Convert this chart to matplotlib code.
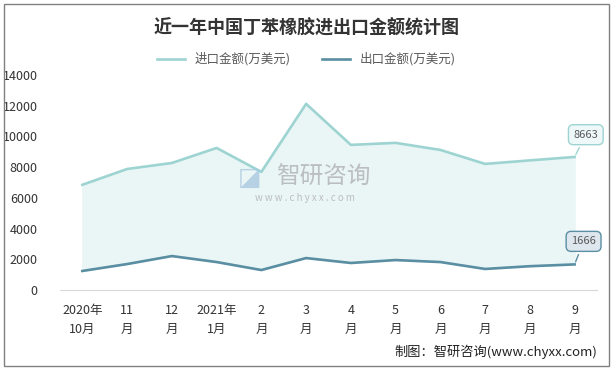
import matplotlib.pyplot as plt
import numpy as np

plt.rcParams['font.family'] = ['Noto Sans CJK SC', 'DejaVu Sans']

months = ['2020年\n10月', '11\n月', '12\n月', '2021年\n1月', '2\n月', '3\n月',
          '4\n月', '5\n月', '6\n月', '7\n月', '8\n月', '9\n月']
imports = [6850, 7880, 8270, 9250, 7690, 12120, 9450, 9580, 9120, 8210, 8440, 8663]
exports = [1240, 1690, 2210, 1820, 1300, 2080, 1760, 1950, 1820, 1370, 1550, 1666]

imp_color = '#9dd4d2'
exp_color = '#5a8ea2'

fig = plt.figure(figsize=(6.13, 3.70), dpi=100)
ax = fig.add_axes([60 / 613, 1 - 290 / 370, 537 / 613, 215 / 370])

x = np.arange(len(months))
ax.fill_between(x, exports, imports, color='#eaf6f6', zorder=1)
ax.plot(x, imports, color=imp_color, lw=1.9, label='进口金额(万美元)', zorder=3)
ax.plot(x, exports, color=exp_color, lw=1.9, label='出口金额(万美元)', zorder=3)

ax.set_xlim(-0.5, 11.5)
ax.set_ylim(0, 14000)
ax.set_yticks(range(0, 14001, 2000))
ax.set_xticks(x)
ax.set_xticklabels(months, fontsize=9, color='#333333', linespacing=1.6)
ax.tick_params(axis='both', length=0, labelsize=9, colors='#333333')
ax.tick_params(axis='x', pad=10)
ax.tick_params(axis='y', pad=16)
for s in ['top', 'right', 'left']:
    ax.spines[s].set_visible(False)
ax.spines['bottom'].set_color('#d9d9d9')

# end labels
ax.annotate(str(imports[-1]), (x[-1], imports[-1]), xytext=(x[-1] + 0.25, imports[-1] + 1450),
            ha='center', va='center', fontsize=8, color='#595959',
            bbox=dict(boxstyle='round,pad=0.45', fc='#eef8f8', ec=imp_color, lw=1),
            arrowprops=dict(arrowstyle='-', color=imp_color, lw=1), zorder=5)
ax.annotate(str(exports[-1]), (x[-1], exports[-1]), xytext=(x[-1] + 0.2, exports[-1] + 1500),
            ha='center', va='center', fontsize=8, color='#595959',
            bbox=dict(boxstyle='round,pad=0.45', fc='#dfe7ee', ec=exp_color, lw=1),
            arrowprops=dict(arrowstyle='-', color=exp_color, lw=1), zorder=5)

# watermark
fig.text(250 / 613, 1 - 178 / 370, '◪', fontsize=18, color='#a9c8e0', alpha=0.8, ha='center', va='center')
fig.text(323 / 613, 1 - 177 / 370, '智研咨询', fontsize=17, color='#b0b0b0', alpha=0.8, ha='center', va='center')
fig.text(305 / 613, 1 - 198 / 370, 'w w w . c h y x x . c o m', fontsize=7, color='#b0b0b0', alpha=0.8,
         ha='center', va='center')

fig.suptitle('近一年中国丁苯橡胶进出口金额统计图', y=0.95, fontsize=13, fontweight='bold', color='#333333')
fig.legend(loc='center', bbox_to_anchor=(0.5, 0.84), ncol=2, frameon=False, fontsize=9,
           handlelength=2.2, columnspacing=2.5, labelcolor='#595959')
fig.text(597 / 613, 1 - 352 / 370, '制图：智研咨询(www.chyxx.com)', fontsize=9.5, color='#222222',
         ha='right', va='center')

# outer frame
fig.patches.append(plt.Rectangle((0.006, 0.012), 0.988, 0.978, transform=fig.transFigure,
                                 fill=False, ec='#808080', lw=1))

fig.savefig('out.png', dpi=100)
